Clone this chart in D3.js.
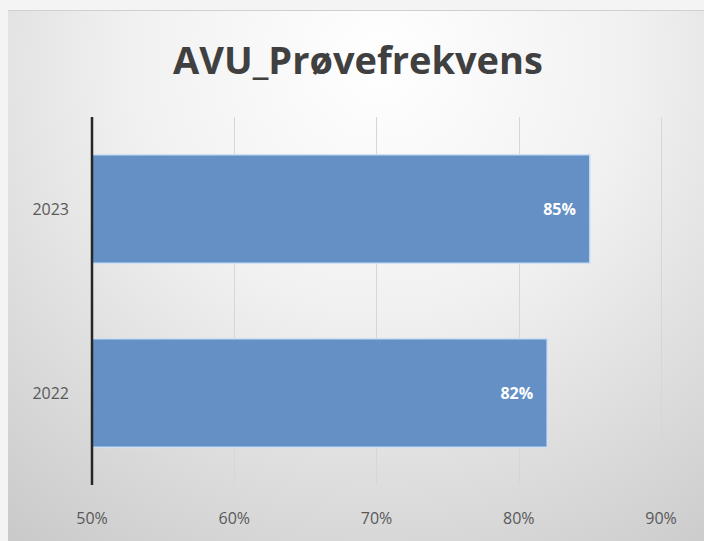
<!DOCTYPE html>
<html><head><meta charset="utf-8">
<script src="https://cdn.jsdelivr.net/npm/d3@7"></script>
<style>body{margin:0;background:#fff;}svg{display:block;}</style>
</head><body>
<script>
const title = "AVU_Prøvefrekvens";
const categories = ["2023", "2022"];
const values = [0.85, 0.82];
const labels = ["85%", "82%"];
const xTicks = [0.5, 0.6, 0.7, 0.8, 0.9];

const W = 704, H = 541;
const svg = d3.select("body").append("svg").attr("width", W).attr("height", H);
const defs = svg.append("defs");
const rg = defs.append("radialGradient").attr("id","bg").attr("gradientUnits","userSpaceOnUse")
  .attr("cx",380).attr("cy",60).attr("r",620);
rg.append("stop").attr("offset","0").attr("stop-color","#ffffff");
rg.append("stop").attr("offset","0.4").attr("stop-color","#f1f1f1");
rg.append("stop").attr("offset","1").attr("stop-color","#c8c8c8");

svg.append("rect").attr("x",0).attr("y",0).attr("width",W).attr("height",H).attr("fill","#f4f4f4");
svg.append("rect").attr("x",8).attr("y",10).attr("width",W-8).attr("height",H-10).attr("fill","url(#bg)");
svg.append("line").attr("x1",8).attr("x2",W).attr("y1",10.5).attr("y2",10.5).attr("stroke","#d0d0d0");

const x = d3.scaleLinear().domain([0.5, 0.9]).range([92, 661]);
const y = d3.scaleBand().domain(categories).range([117, 485]).paddingInner(0.41).paddingOuter(0.205);

// gridlines
svg.append("g").selectAll("line").data(xTicks.slice(1)).join("line")
  .attr("x1", d => Math.round(x(d))+0.5).attr("x2", d => Math.round(x(d))+0.5)
  .attr("y1", 117).attr("y2", 485).attr("stroke", "#d6d6d6").attr("stroke-width", 1);

// bars
svg.append("g").selectAll("rect").data(categories).join("rect")
  .attr("x", x(0.5)).attr("y", d => y(d))
  .attr("width", (d,i) => x(values[i]) - x(0.5)).attr("height", y.bandwidth())
  .attr("fill", "#6490c6").attr("stroke", "#cfe0f4").attr("stroke-width", 1.5);

// data labels
svg.append("g").selectAll("text").data(categories).join("text")
  .attr("x", (d,i) => x(values[i]) - 14).attr("y", d => y(d) + y.bandwidth()/2 + 6)
  .attr("text-anchor","end").attr("fill","#ffffff")
  .attr("font-family","'Open Sans', 'Noto Sans', sans-serif").attr("font-weight","bold").attr("font-size",16)
  .text((d,i) => labels[i]);

// axis line
svg.append("line").attr("x1",92).attr("x2",92).attr("y1",117).attr("y2",485)
  .attr("stroke","#262626").attr("stroke-width",2.5);

// x tick labels
svg.append("g").selectAll("text").data(xTicks).join("text")
  .attr("x", d => x(d)).attr("y", 524).attr("text-anchor","middle")
  .attr("fill","#595959").attr("font-family","'Open Sans', 'Noto Sans', sans-serif").attr("font-size",16)
  .text(d => d3.format(".0%")(d));

// y labels
svg.append("g").selectAll("text").data(categories).join("text")
  .attr("x", 69).attr("y", d => y(d) + y.bandwidth()/2 + 6).attr("text-anchor","end")
  .attr("fill","#595959").attr("font-family","'Open Sans', 'Noto Sans', sans-serif").attr("font-size",16)
  .text(d => d);

// title
svg.append("text").attr("x", 358).attr("y", 74).attr("text-anchor","middle")
  .attr("fill","#404040").attr("font-family","'Open Sans', 'Noto Sans', sans-serif").attr("font-weight","bold").attr("font-size",38)
  .text(title);
</script>
</body></html>
